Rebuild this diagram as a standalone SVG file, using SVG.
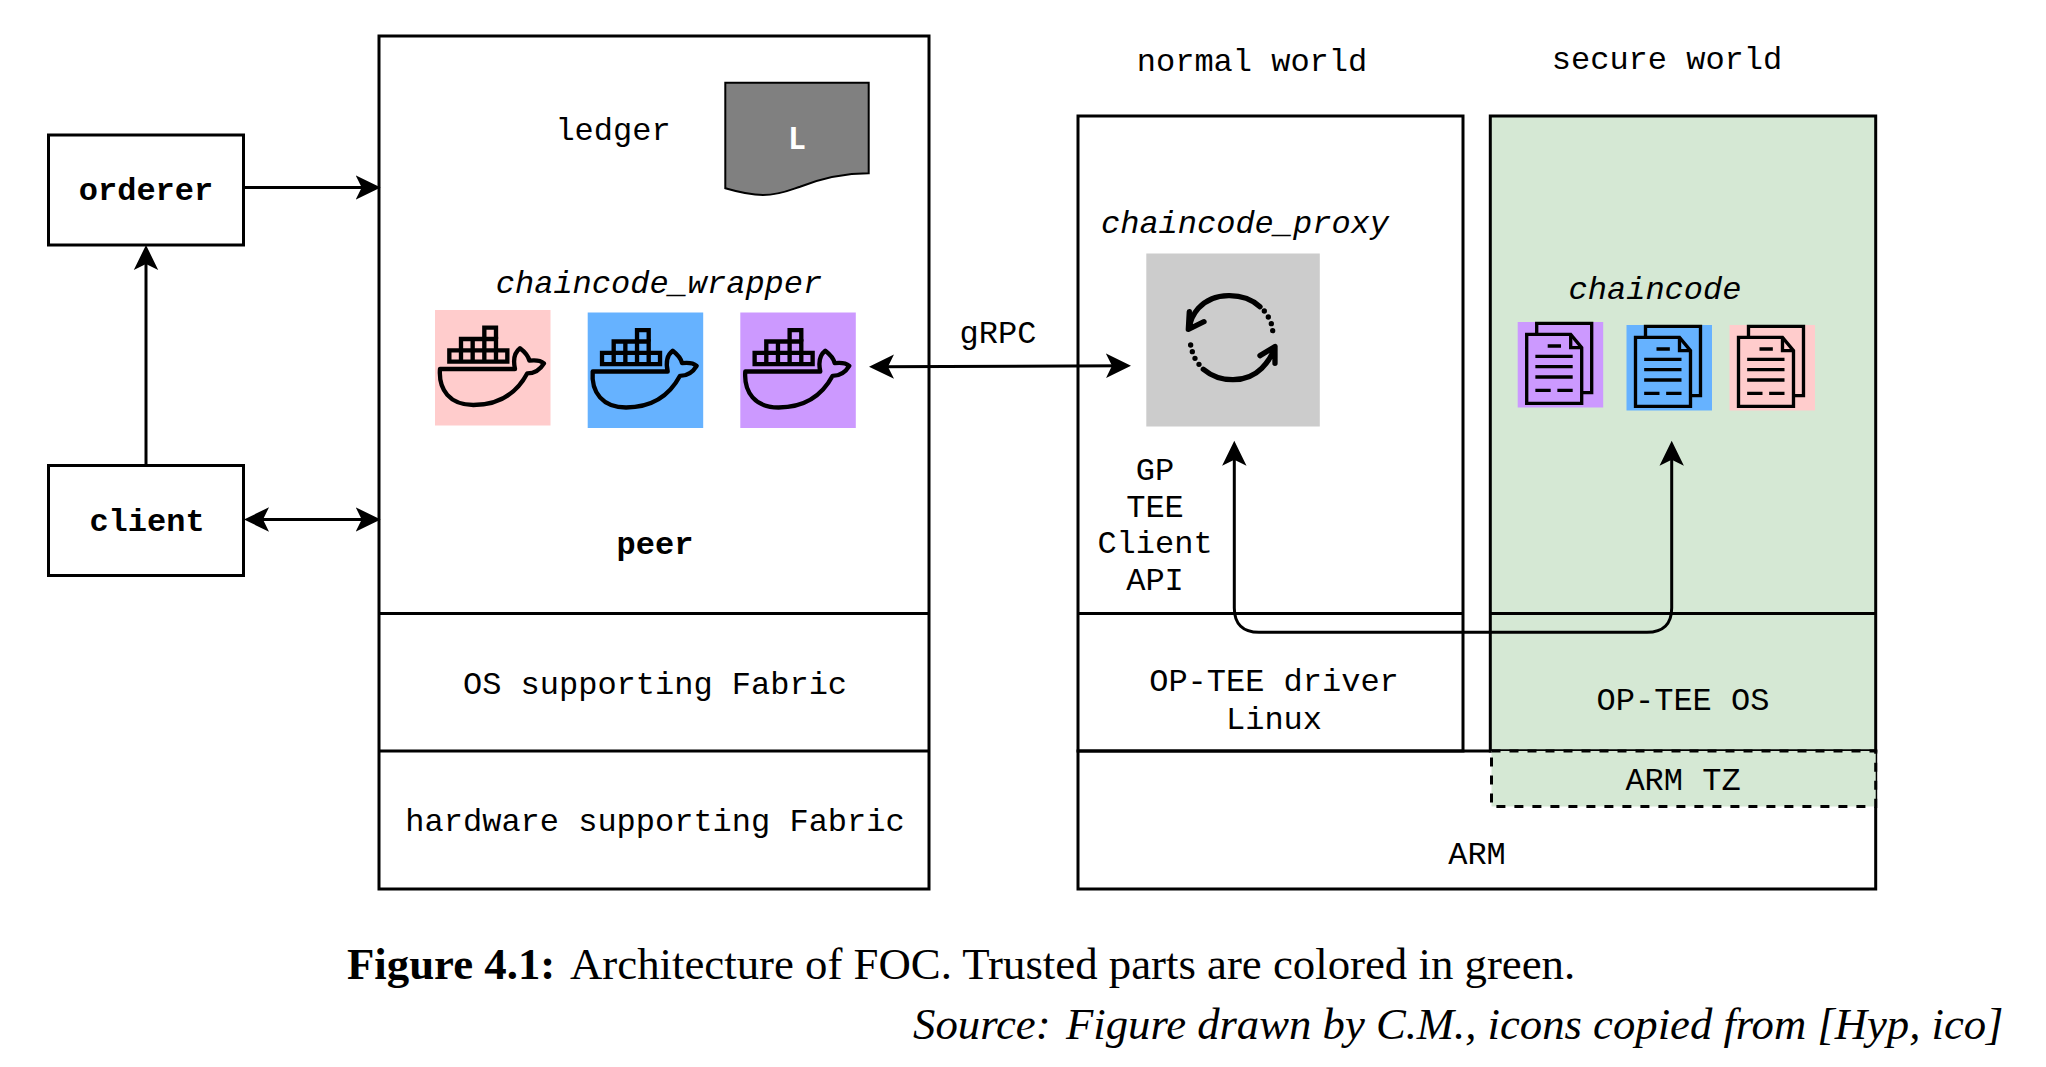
<svg xmlns="http://www.w3.org/2000/svg" width="2046" height="1067" viewBox="0 0 2046 1067">
<style>
.b{fill:none;stroke:#000;stroke-width:3}
.w{fill:#fff;stroke:#000;stroke-width:3}
.c{stroke:#000;stroke-width:3;fill:none}
text{font-family:"Liberation Mono",monospace;font-size:32px;fill:#000;text-anchor:middle}
.bd{font-weight:700}
.it{font-style:italic}
.cap{font-family:"Liberation Serif",serif;font-size:44.800px;text-anchor:start}
.ic{fill:none;stroke:#000;stroke-linecap:round;stroke-linejoin:round}
</style>
<defs>
<marker id="a" markerUnits="userSpaceOnUse" markerWidth="26" markerHeight="26" refX="19" refY="13" orient="auto-start-reverse" viewBox="0 0 26 26">
<path d="M0,.8 L25,13 L0,25.200 L6,13 Z" fill="#000"/>
</marker>
<g id="whale" class="ic">
<g transform="scale(.3333)" stroke-width="13" stroke-linecap="butt" stroke-linejoin="miter">
<path d="M15,177 H240 C234,150 238,128 255,115 C268,125 280,138 283,152 C298,150 315,150 327,160 C315,180 300,190 277,190 C245,250 195,285 115,285 C45,285 10,240 15,177 Z" stroke-linejoin="round"/>
<path d="M43,121 H217 V155 H43 Z M78,121 V155 M113,121 V155 M148,121 V155 M183,121 V155"/>
<path d="M78,121 V87 H183 V121 M113,87 V121 M148,87 V121"/>
<path d="M148,87 V53 H183 V87"/>
</g>
</g>
<g id="doc" class="ic">
<g transform="scale(.3333)" stroke-width="10" stroke-linecap="butt" stroke-linejoin="miter">
<path d="M57,34 V4 H222 V212 H192"/>
<path d="M27,37 H159 L192,77 V244 H27 Z"/>
<path d="M159,37 V77 H192"/>
<path d="M90,72 H130 M53,103 H165 M53,134 H165 M53,165 H165 M53,205 H99 M119,205 H165"/>
</g>
</g>
</defs>
<rect width="2046" height="1067" fill="#fff"/>

<g id="orderer"><rect class="w" x="48.500" y="135" width="195" height="110"/><text class="bd" x="146" y="200">orderer</text></g>
<g id="client"><rect class="w" x="48.500" y="465.500" width="195" height="110"/><text class="bd" x="147" y="531">client</text></g>

<g id="peer">
<rect class="w" x="379" y="36" width="550" height="853"/>
<path class="b" d="M379,613.500 H929 M379,751 H929"/>
<text x="613" y="140">ledger</text>
<text class="bd" x="655" y="554">peer</text>
<text class="it" x="659" y="293">chaincode_wrapper</text>
<text x="655" y="694">OS supporting Fabric</text>
<text x="655" y="831">hardware supporting Fabric</text>
</g>
<g id="ledger">
<path d="M725.300,82.800 H868.700 V173.300 C842,173.300 820,179 800,186.700 C790,190 780,195 763,195 C750,195 738,192 725.300,188.300 Z" fill="#808080" stroke="#000" stroke-width="2"/>
<text class="bd" x="797" y="149" style="fill:#fff;font-family:'Open Sans',sans-serif;font-size:30px">L</text>
</g>
<g id="wrapper-pink"><rect x="435" y="310" width="115.500" height="115.500" fill="#ffcccc"/><use href="#whale" x="435" y="310"/></g>
<g id="wrapper-blue"><rect x="587.700" y="312.500" width="115.500" height="115.500" fill="#66b2ff"/><use href="#whale" x="587.700" y="312.500"/></g>
<g id="wrapper-purple"><rect x="740.300" y="312.500" width="115.500" height="115.500" fill="#cc99ff"/><use href="#whale" x="740.300" y="312.500"/></g>

<g id="normal-world">
<rect class="w" x="1078" y="116" width="385" height="635"/>
<path class="b" d="M1078,613.500 H1463"/>
<text x="1252" y="71">normal world</text>
<text class="it" x="1245" y="233">chaincode_proxy</text>
<text x="1155" y="480">GP</text><text x="1155" y="517">TEE</text><text x="1155" y="553">Client</text><text x="1155" y="590">API</text>
<text x="1274" y="691">OP-TEE driver</text>
<text x="1274" y="729">Linux</text>
</g>
<g id="proxy">
<rect x="1146.300" y="253.500" width="173.500" height="173" fill="#cccccc"/>
<g class="ic" transform="translate(1130,240) scale(.3333)">
<path d="M390,200 C340,155 250,155 205,205 C190,222 180,245 178,265 M178,215 L175,268 L222,245" stroke-width="16"/>
<path d="M220,388 C270,430 350,430 395,385 C415,365 428,345 435,320 M390,347 L435,320 L435,370" stroke-width="16"/>
<path d="M403,213 V213 M415,231 V231 M424,251 V251 M428,272 V272 M207,373 V373 M195,355 V355 M187,335 V335 M182,315 V315" stroke-width="16"/>
</g>
</g>

<g id="secure-world">
<rect x="1490.300" y="116" width="385.400" height="635" fill="#d5e8d4" stroke="#000" stroke-width="3"/>
<path class="b" d="M1490.300,613.500 H1875.700"/>
<text x="1667" y="69">secure world</text>
<text class="it" x="1655" y="299">chaincode</text>
<text x="1683" y="710">OP-TEE OS</text>
</g>
<g id="doc-purple"><rect x="1517.700" y="322" width="85.500" height="85.500" fill="#cc99ff"/><use href="#doc" x="1517.700" y="322"/></g>
<g id="doc-blue"><rect x="1626.500" y="325" width="85.500" height="85.500" fill="#66b2ff"/><use href="#doc" x="1626.500" y="325"/></g>
<g id="doc-pink"><rect x="1729.500" y="325" width="85.500" height="85.500" fill="#ffcccc"/><use href="#doc" x="1729.500" y="325"/></g>

<g id="arm">
<path class="b" d="M1078,751 H1875.700 V889 H1078 Z"/>
<text x="1477" y="864">ARM</text>
</g>
<g id="arm-tz">
<rect x="1491.500" y="751" width="384.200" height="55.500" fill="#d5e8d4" stroke="#000" stroke-width="3" stroke-dasharray="9 9"/>
<text x="1683" y="790">ARM TZ</text>
</g>

<g id="connectors">
<path class="c" d="M243.500,187.500 H374.700" marker-end="url(#a)"/>
<path class="c" d="M146,465.500 V251" marker-end="url(#a)"/>
<path class="c" d="M250,519.500 H374.700" marker-start="url(#a)" marker-end="url(#a)"/>
<path class="c" d="M875,366.700 L1125,365.700" marker-start="url(#a)" marker-end="url(#a)"/>
<path class="c" d="M1234.300,446.700 V608 C1234.300,624 1243,632.300 1259,632.300 H1647 C1663,632.300 1671.700,624 1671.700,608 V446.700" marker-start="url(#a)" marker-end="url(#a)"/>
<text x="998" y="343">gRPC</text>
</g>

<g id="caption">
<text class="cap bd" x="347" y="979">Figure 4.1:</text>
<text class="cap" x="570" y="979">Architecture of FOC. Trusted parts are colored in green.</text>
<text class="cap it" x="913" y="1039">Source:</text>
<text class="cap it" x="1066" y="1039" style="font-size:44.700px">Figure drawn by C.M., icons copied from [Hyp, ico]</text>
</g>
</svg>
